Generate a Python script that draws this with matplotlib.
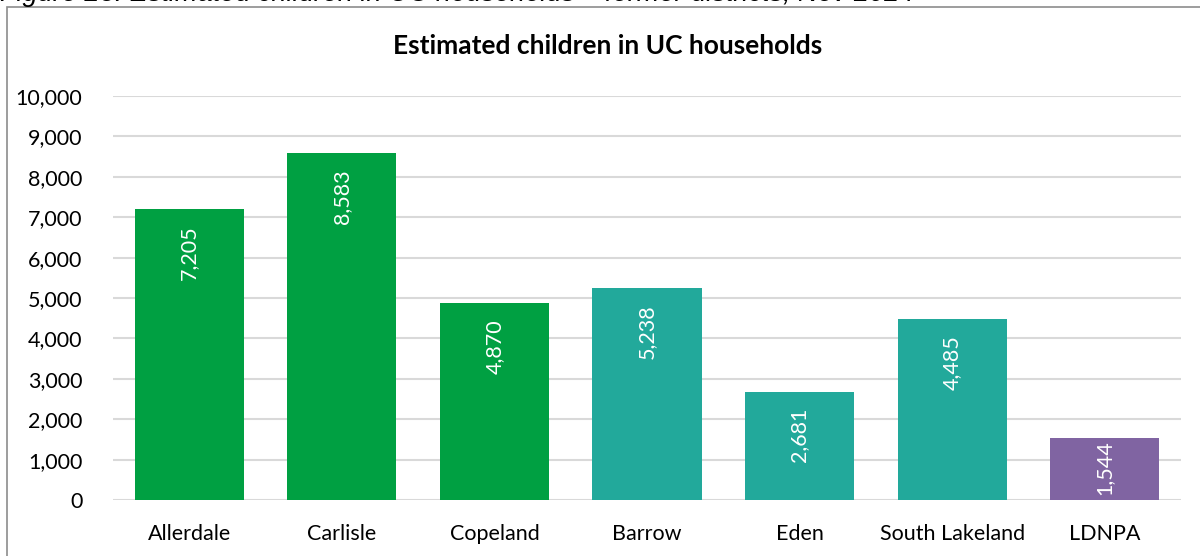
import matplotlib.pyplot as plt
from matplotlib.patches import Rectangle

plt.rcParams['font.family'] = ['Lato', 'DejaVu Sans']

districts = ['Allerdale', 'Carlisle', 'Copeland', 'Barrow', 'Eden', 'South Lakeland', 'LDNPA']
children = [7205, 8583, 4870, 5238, 2681, 4485, 1544]
colours = ['#00A042', '#00A042', '#00A042', '#22A99B', '#22A99B', '#22A99B', '#8064A2']

fig = plt.figure(figsize=(12, 5.56), dpi=100)
ax = fig.add_axes([113 / 1200, 1 - 500 / 556, 1068 / 1200, 404 / 556])

x = range(len(districts))
bars = ax.bar(x, children, width=0.715, color=colours, zorder=2)
for b, v in zip(bars, children):
    # inside-end label; pushed up to the top edge when the bar is short
    top = v - 400 if v > 2000 else v - 60
    ax.text(b.get_x() + b.get_width() / 2, top, f'{v:,}', rotation=90,
            ha='center', va='top', color='white', fontsize=15.5)

ax.set_xlim(-0.5, len(districts) - 0.5)
ax.set_ylim(0, 10000)
ax.set_yticks(range(0, 10001, 1000))
ax.set_yticklabels([f'{t:,}' for t in range(0, 10001, 1000)], fontsize=15.5)
ax.set_xticks(list(x))
ax.set_xticklabels(districts, fontsize=15.5)
ax.tick_params(length=0)
ax.tick_params(axis='y', pad=22)
ax.tick_params(axis='x', pad=17)
ax.grid(axis='y', color='#D9D9D9', linewidth=1.5, zorder=0)
for s in ax.spines.values():
    s.set_visible(False)

# chart frame and cropped caption
fig.patches.append(Rectangle((7 / 1200, -0.1), 1.2, 1 - 7 / 556 + 0.1,
                             transform=fig.transFigure, fill=False,
                             edgecolor='#8C8C8C', linewidth=1.2))
fig.text(0.0, 1 + 6 / 556, 'Figure 23: Estimated children in UC households \u2013 former districts, Nov 2024',
         fontsize=19.5, style='italic', va='center', ha='left', family=['Liberation Sans', 'DejaVu Sans'])
fig.text(608 / 1200, 1 - 46 / 556, 'Estimated children in UC households',
         fontsize=19, fontweight='bold', ha='center', va='center')

fig.savefig('out.png', dpi=100)
